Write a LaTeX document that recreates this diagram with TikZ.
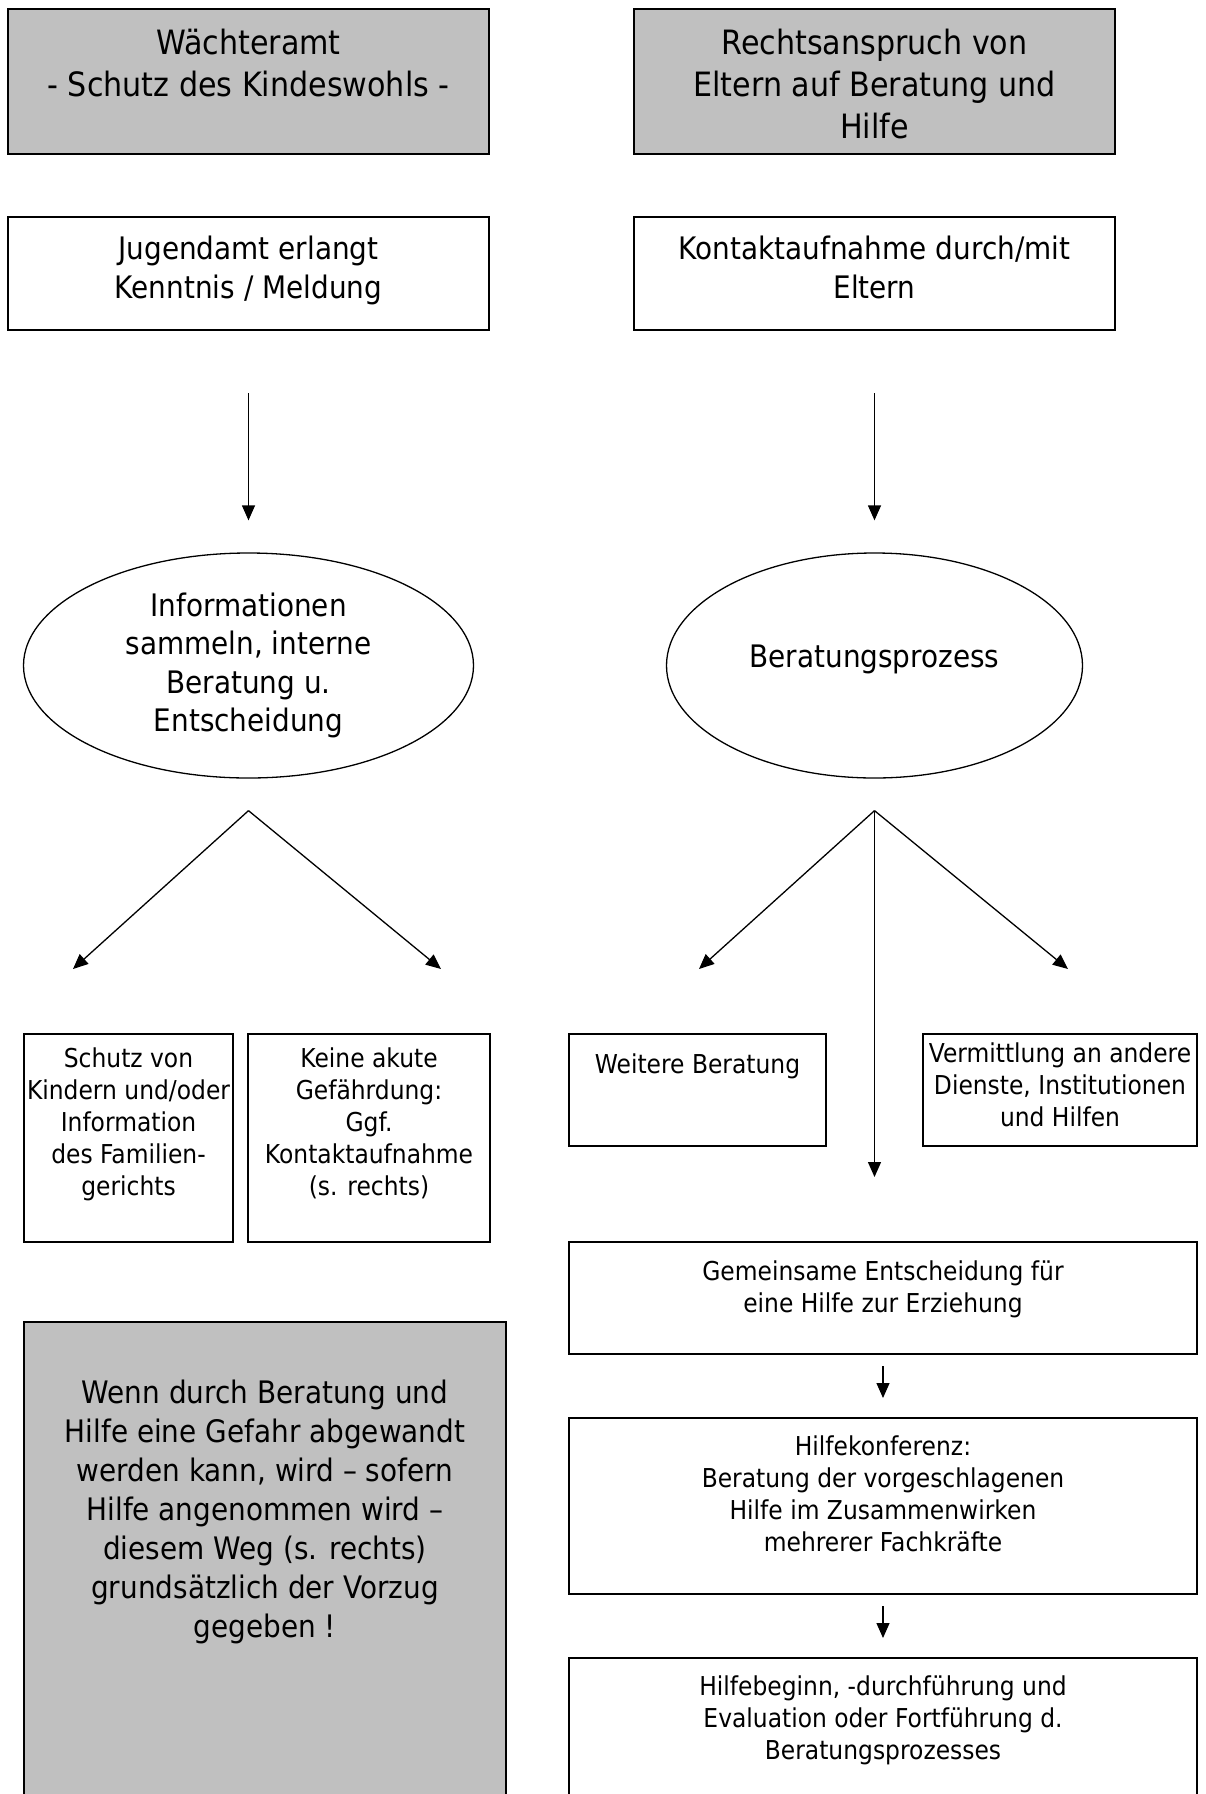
\documentclass[tikz,border=0pt]{standalone}
\usepackage{fontspec}
\setmainfont[FakeStretch=0.9]{DejaVu Sans}
\usetikzlibrary{arrows.meta,shapes.geometric,positioning}

\definecolor{boxgrey}{HTML}{C0C0C0}
% text block of fixed size, set at the top
\newcommand{\boxtext}[4]{\parbox[b][#2][t]{#1}{\vspace*{#3}\centering\strut #4\par}}

\begin{document}
\begin{tikzpicture}[x=1pt,y=-1pt,>={Triangle[length=15pt,width=13pt]},line width=1.3pt,
    box/.style={draw,line width=1.7pt,inner sep=0pt,outer sep=0pt,anchor=north west},
    greybox/.style={box,fill=boxgrey},
    oval/.style={draw,ellipse,inner sep=0pt,line width=1.3pt},
    big/.style={font=\fontsize{33.5}{41.7}\selectfont},
    mid/.style={font=\fontsize{31}{38.5}\selectfont},
    small/.style={font=\fontsize{26}{32}\selectfont}]
    \useasboundingbox (0,0) rectangle (1206,1794);
    \clip (0,0) rectangle (1206,1794);

    \node[greybox,big] (wacht) at (8,9) {\boxtext{481pt}{145pt}{16.8pt}{Wächteramt\\- Schutz des Kindeswohls -}};
    \node[greybox,big] (recht) at (634,9) {\boxtext{481pt}{145pt}{16.8pt}{Rechtsanspruch von\\Eltern auf Beratung und\\Hilfe}};
    \node[box,mid] (jug) at (8,217) {\boxtext{481pt}{113pt}{16pt}{Jugendamt erlangt\\Kenntnis / Meldung}};
    \node[box,mid] (kont) at (634,217) {\boxtext{481pt}{113pt}{16pt}{Kontaktaufnahme durch/mit\\Eltern}};

    \node[oval,mid,minimum width=450pt,minimum height=225pt,align=center] (info) at (248.5,665.5) {Informationen\\sammeln, interne\\Beratung u.\\Entscheidung};
    \node[oval,mid,minimum width=416pt,minimum height=225pt,text height=24pt,text depth=20pt] (berat) at (874.5,665.5) {Beratungsprozess};

    \coordinate (lsplit) at ([yshift=-32pt]info.south);
    \coordinate (rsplit) at ([yshift=-32pt]berat.south);
    \coordinate (ltipa) at (73,969);
    \coordinate (ltipb) at (441,969);
    \coordinate (rtipa) at (699,969);
    \coordinate (rtipb) at (1068,969);

    \node[box,small] (schutz) at (24,1034) {\boxtext{209pt}{208pt}{10.6pt}{Schutz von\\Kindern und/oder\\Information\\des Familien-\\gerichts}};
    \node[box,small] (keine) at (248,1034) {\boxtext{242pt}{208pt}{10.6pt}{Keine akute\\Gefährdung:\\Ggf.\\Kontaktaufnahme\\(s. rechts)}};
    \node[box,small] (weiter) at (569,1034) {\boxtext{257pt}{112pt}{16.6pt}{Weitere Beratung}};
    \node[box,small] (vermitt) at (923,1034) {\boxtext{274pt}{112pt}{6pt}{Vermittlung an andere\\Dienste, Institutionen\\und Hilfen}};
    \node[box,small] (gemein) at (569,1242) {\boxtext{628pt}{112pt}{15.6pt}{Gemeinsame Entscheidung für\\eine Hilfe zur Erziehung}};
    \node[box,small] (konf) at (569,1418) {\boxtext{628pt}{176pt}{14.6pt}{Hilfekonferenz:\\Beratung der vorgeschlagenen\\Hilfe im Zusammenwirken\\mehrerer Fachkräfte}};
    \node[box,small] (beginn) at (569,1658) {\boxtext{628pt}{180pt}{14.6pt}{Hilfebeginn, -durchführung und\\Evaluation oder Fortführung d.\\Beratungsprozesses}};
    \node[greybox,font=\fontsize{31}{39}\selectfont] (vorzug) at (24,1322) {\boxtext{482pt}{510pt}{53.7pt}{Wenn durch Beratung und\\Hilfe eine Gefahr abgewandt\\werden kann, wird – sofern\\Hilfe angenommen wird –\\diesem Weg (s. rechts)\\grundsätzlich der Vorzug\\gegeben !}};

    \path[->] (jug) edge[shorten <=63pt,shorten >=32pt] (info);
    \path[->] (kont) edge[shorten <=63pt,shorten >=32pt] (berat);
    \path[->] (lsplit) edge (ltipa) edge (ltipb);
    \path[->] (rsplit) edge (rtipa) edge (rtipb);
    \path[->] (rsplit) edge[shorten >=65pt] (rsplit |- gemein.north);
    \path[->] (gemein) edge[shorten <=12pt,shorten >=20pt] (konf);
    \path[->] (konf) edge[shorten <=12pt,shorten >=20pt] (beginn);
\end{tikzpicture}
\end{document}
